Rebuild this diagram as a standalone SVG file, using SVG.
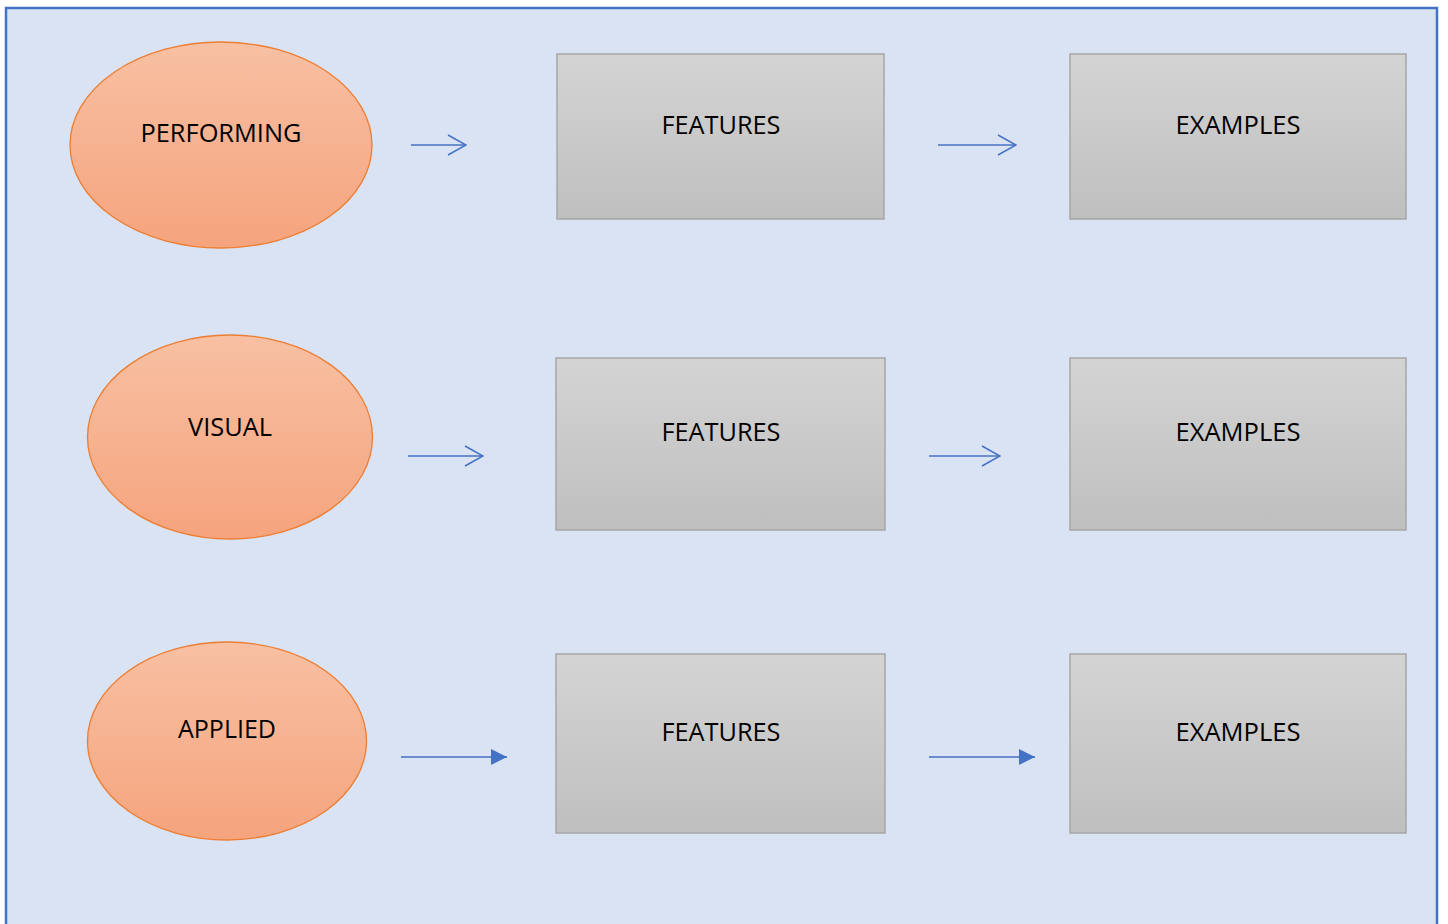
<svg xmlns="http://www.w3.org/2000/svg" width="1448" height="924" viewBox="0 0 1448 924">
<style>
.lbl{font-family:"Open Sans","Liberation Sans",Arial,sans-serif;font-size:26px;fill:#000;text-anchor:middle}
.ell{fill:url(#og);stroke:#ED7D31;stroke-width:1.3}
.box{fill:url(#gg);stroke:#A6A6A6;stroke-width:1.5}
.con{stroke:#4472C4;stroke-width:1.6;fill:none}
</style>
<defs>
<linearGradient id="og" x1="0" y1="0" x2="0" y2="1"><stop offset="0" stop-color="#F8C0A3"/><stop offset="1" stop-color="#F5A47D"/></linearGradient>
<linearGradient id="gg" x1="0" y1="0" x2="0" y2="1"><stop offset="0" stop-color="#D4D4D4"/><stop offset="1" stop-color="#BFBFBF"/></linearGradient>
<marker id="open" viewBox="0 0 20 22" refX="19" refY="11" markerWidth="20" markerHeight="22" markerUnits="userSpaceOnUse" orient="auto"><path d="M1,1 L19,11 L1,21" fill="none" stroke="#4472C4" stroke-width="1.5"/></marker>
<marker id="fill" viewBox="0 0 16 16" refX="16" refY="8" markerWidth="16" markerHeight="16" markerUnits="userSpaceOnUse" orient="auto"><path d="M0,0 L16,8 L0,16 Z" fill="#4472C4"/></marker>
</defs>
<rect x="6" y="8" width="1431" height="930" fill="#DAE3F3" stroke="#4472C4" stroke-width="2.5"/>
<g id="n-performing"><ellipse class="ell" cx="221" cy="145" rx="151" ry="103"/><text class="lbl" x="221" y="142" textLength="161" lengthAdjust="spacingAndGlyphs">PERFORMING</text></g>
<g id="n-visual"><ellipse class="ell" cx="230" cy="437" rx="142.5" ry="102"/><text class="lbl" x="230" y="436" textLength="84" lengthAdjust="spacingAndGlyphs">VISUAL</text></g>
<g id="n-applied"><ellipse class="ell" cx="227" cy="741" rx="139.5" ry="99"/><text class="lbl" x="227" y="738" textLength="98" lengthAdjust="spacingAndGlyphs">APPLIED</text></g>
<g id="n-features1"><rect class="box" x="557" y="54" width="327" height="165"/><text class="lbl" x="721" y="134" textLength="119" lengthAdjust="spacingAndGlyphs">FEATURES</text></g>
<g id="n-examples1"><rect class="box" x="1070" y="54" width="336" height="165"/><text class="lbl" x="1238" y="134" textLength="125" lengthAdjust="spacingAndGlyphs">EXAMPLES</text></g>
<g id="n-features2"><rect class="box" x="556" y="358" width="329" height="172"/><text class="lbl" x="721" y="441" textLength="119" lengthAdjust="spacingAndGlyphs">FEATURES</text></g>
<g id="n-examples2"><rect class="box" x="1070" y="358" width="336" height="172"/><text class="lbl" x="1238" y="441" textLength="125" lengthAdjust="spacingAndGlyphs">EXAMPLES</text></g>
<g id="n-features3"><rect class="box" x="556" y="654" width="329" height="179"/><text class="lbl" x="721" y="741" textLength="119" lengthAdjust="spacingAndGlyphs">FEATURES</text></g>
<g id="n-examples3"><rect class="box" x="1070" y="654" width="336" height="179"/><text class="lbl" x="1238" y="741" textLength="125" lengthAdjust="spacingAndGlyphs">EXAMPLES</text></g>
<g id="connectors">
<line class="con" x1="411" y1="145" x2="466" y2="145" marker-end="url(#open)"/>
<line class="con" x1="938" y1="145" x2="1016" y2="145" marker-end="url(#open)"/>
<line class="con" x1="408" y1="456" x2="483" y2="456" marker-end="url(#open)"/>
<line class="con" x1="929" y1="456" x2="1000" y2="456" marker-end="url(#open)"/>
<line class="con" x1="401" y1="757" x2="507" y2="757" marker-end="url(#fill)"/>
<line class="con" x1="929" y1="757" x2="1035" y2="757" marker-end="url(#fill)"/>
</g>
</svg>
